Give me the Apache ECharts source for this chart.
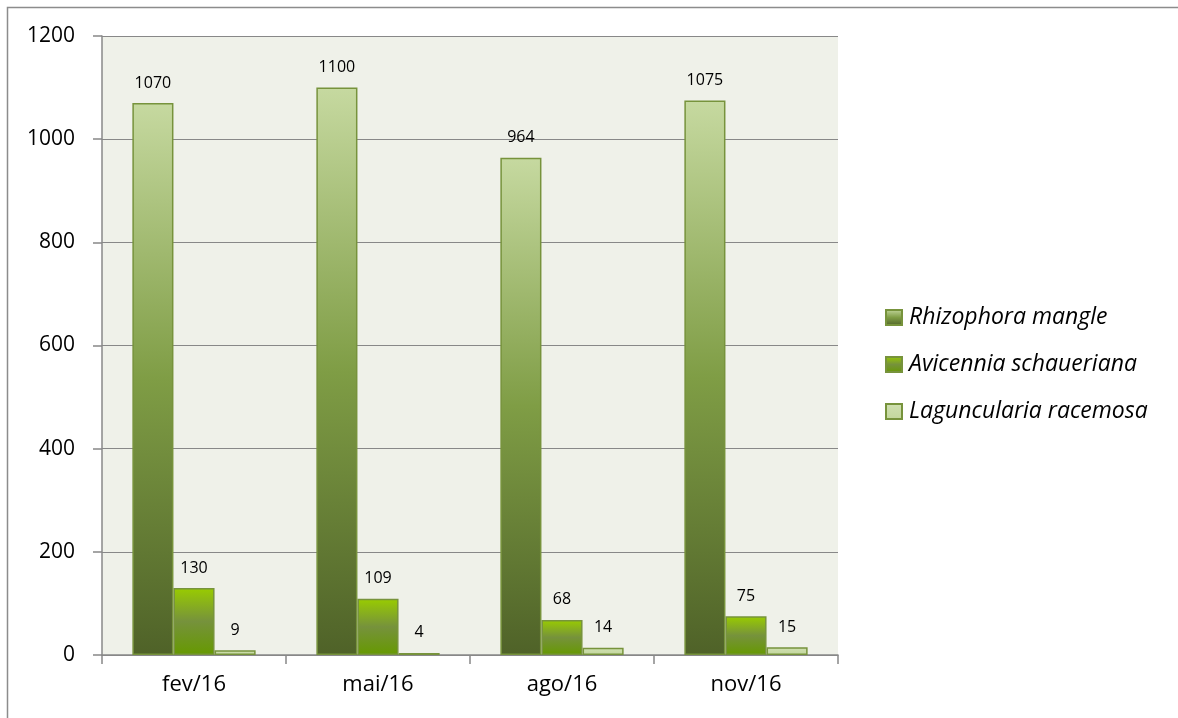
<!DOCTYPE html>
<html><head><meta charset="utf-8">
<script src="https://cdn.jsdelivr.net/npm/echarts@6/dist/echarts.min.js"></script>
<style>html,body{margin:0;padding:0;background:#fff}#c{width:1178px;height:718px}</style>
</head><body><div id="c"></div>
<script>
const categories = ['fev/16','mai/16','ago/16','nov/16'];
const seriesNames = ['Rhizophora mangle','Avicennia schaueriana','Laguncularia racemosa'];
const rhizophora = [1070, 1100, 964, 1075];
const avicennia = [130, 109, 68, 75];
const laguncularia = [9, 4, 14, 15];
const yTicks = [0,200,400,600,800,1000,1200];

const G = echarts.graphic;
const fills = [
  new G.LinearGradient(0,0,0,1,[{offset:0,color:'#C6D9A0'},{offset:0.5,color:'#7F9D45'},{offset:1,color:'#4F6228'}]),
  new G.LinearGradient(0,0,0,1,[{offset:0,color:'#99CC00'},{offset:0.5,color:'#76923C'},{offset:1,color:'#669900'}]),
  new G.LinearGradient(0,0,0,1,[{offset:0,color:'#D0E0B2'},{offset:1,color:'#C2D69B'}])
];
const borders = ['#77933C','#77933C','#77933C'];
const data = [rhizophora, avicennia, laguncularia];
const font = "'Open Sans', 'DejaVu Sans', sans-serif";

const chart = echarts.init(document.getElementById('c'), null, {renderer:'canvas'});
chart.setOption({
  backgroundColor:'#ffffff',
  animation:false,
  graphic:[{type:'rect',left:5,top:5,shape:{width:1250,height:760},style:{fill:'none',stroke:'#8c8c8c',lineWidth:1.5},silent:true,z:-10}],
  grid:{left:102,right:340,top:36,bottom:63,show:true,backgroundColor:'#EFF1E9',borderWidth:0},
  legend:{
    orient:'vertical',left:880,top:301,itemGap:24,itemWidth:16,itemHeight:15,
    icon:'rect',
    textStyle:{fontFamily:font,fontSize:23,fontStyle:'italic',color:'#000',padding:[0,0,0,2]},
    data:seriesNames
  },
  xAxis:{
    type:'category',data:categories,
    axisLine:{lineStyle:{color:'#888',width:1.5}},
    axisTick:{show:true,length:9,lineStyle:{color:'#888',width:1.5}},
    axisLabel:{fontFamily:font,fontSize:22,color:'#000',margin:19}
  },
  yAxis:{
    type:'value',min:0,max:1200,interval:200,
    axisLine:{show:true,lineStyle:{color:'#888',width:1.5}},
    axisTick:{show:true,length:9,inside:false,lineStyle:{color:'#888',width:1.5}},
    axisLabel:{fontFamily:font,fontSize:21,color:'#000',margin:27,formatter:v=>yTicks.includes(v)?String(v):''},
    splitLine:{lineStyle:{color:'#888',width:1}}
  },
  series: data.map((d,i)=>({
    name:seriesNames[i],type:'bar',data:d,
    barGap:'0%',barCategoryGap:'33%',
    itemStyle:{color:fills[i],borderColor:borders[i],borderWidth:1.5},
    label:{show:true,position:'top',distance:12,fontFamily:font,fontSize:16,color:'#000'}
  }))
});
</script></body></html>
